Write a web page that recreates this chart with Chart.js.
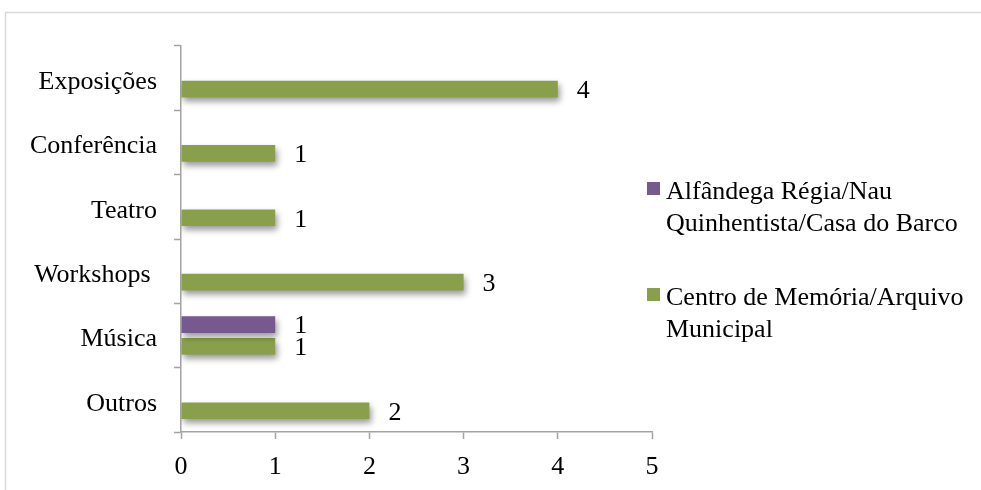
<!DOCTYPE html>
<html>
<head>
<meta charset="utf-8">
<script src="https://cdn.jsdelivr.net/npm/chart.js@4"></script>
<style>
  html, body { margin: 0; padding: 0; background: #fff; }
  canvas { display: block; }
</style>
</head>
<body>
<canvas id="grafico" width="981" height="490"></canvas>
<script>
const categorias = ["Exposições", "Conferência", "Teatro", "Workshops ", "Música", "Outros"];
const alfandega = [null, null, null, null, 1, null];
const centroMemoria = [4, 1, 1, 3, 1, 2];
const ticksX = [0, 1, 2, 3, 4, 5];

const legendaLinhas = [
  ["Alfândega Régia/Nau", "Quinhentista/Casa do Barco"],
  ["Centro de Memória/Arquivo", "Municipal"],
];

const CINZA = "#a3a3a3";

Chart.defaults.font.family = "'Liberation Serif', 'Times New Roman', serif";
Chart.defaults.font.size = 26;
Chart.defaults.color = "#000";

// moldura cinzenta à volta do gráfico
const moldura = {
  id: "moldura",
  beforeDraw(chart) {
    const ctx = chart.ctx;
    ctx.save();
    ctx.strokeStyle = "#d9d9d9";
    ctx.lineWidth = 1.5;
    ctx.beginPath();
    ctx.moveTo(5.5, 490);
    ctx.lineTo(5.5, 12.5);
    ctx.lineTo(981, 12.5);
    ctx.stroke();
    ctx.restore();
  },
};

// sombra por baixo das barras
const sombra = {
  id: "sombra",
  beforeDatasetsDraw(chart) {
    const ctx = chart.ctx;
    ctx.save();
    ctx.shadowColor = "rgba(0,0,0,0.4)";
    ctx.shadowBlur = 6;
    ctx.shadowOffsetX = 2;
    ctx.shadowOffsetY = 4;
  },
  afterDatasetsDraw(chart) {
    chart.ctx.restore();
  },
};

// valores à direita de cada barra
const valores = {
  id: "valores",
  afterDatasetsDraw(chart) {
    const ctx = chart.ctx;
    ctx.save();
    ctx.font = "26px 'Liberation Serif', serif";
    ctx.fillStyle = "#000";
    ctx.textAlign = "left";
    ctx.textBaseline = "middle";
    chart.data.datasets.forEach((ds, i) => {
      chart.getDatasetMeta(i).data.forEach((bar, j) => {
        const v = ds.data[j];
        if (v === null) return;
        ctx.fillText(String(v), bar.x + 19, bar.y + 2);
      });
    });
    ctx.restore();
  },
};

// legenda em duas linhas por série
const legenda = {
  id: "legenda",
  afterDraw(chart) {
    const ctx = chart.ctx;
    const topos = [182, 288];
    ctx.save();
    ctx.font = "26px 'Liberation Serif', serif";
    ctx.textAlign = "left";
    ctx.textBaseline = "alphabetic";
    chart.data.datasets.forEach((ds, i) => {
      const y = topos[i];
      ctx.fillStyle = ds.backgroundColor;
      ctx.fillRect(647, y, 13, 13);
      ctx.fillStyle = "#000";
      legendaLinhas[i].forEach((linha, k) => {
        ctx.fillText(linha, 666, y + 17 + k * 32);
      });
    });
    ctx.restore();
  },
};

new Chart(document.getElementById("grafico"), {
  type: "bar",
  data: {
    labels: categorias,
    datasets: [
      {
        label: legendaLinhas[0].join(" "),
        data: alfandega,
        backgroundColor: "#76598f",
      },
      {
        label: legendaLinhas[1].join(" "),
        data: centroMemoria,
        backgroundColor: "#8a9f4c",
      },
    ],
  },
  options: {
    indexAxis: "y",
    responsive: false,
    animation: false,
    categoryPercentage: 0.68,
    barPercentage: 0.76,
    layout: { padding: { top: 46, right: 329, bottom: 0, left: 0 } },
    plugins: {
      legend: { display: false },
      tooltip: { enabled: false },
    },
    scales: {
      x: {
        min: 0,
        max: 5,
        afterBuildTicks: (scale) => {
          scale.ticks = ticksX.map((v) => ({ value: v }));
        },
        afterFit: (scale) => {
          scale.height = 58;
        },
        border: { color: CINZA, width: 1.5 },
        grid: {
          drawOnChartArea: false,
          color: CINZA,
          tickLength: 7,
          tickWidth: 1.5,
        },
        ticks: { padding: 13, color: "#000" },
      },
      y: {
        afterFit: (scale) => {
          scale.width = 181;
        },
        border: { color: CINZA, width: 1.5 },
        grid: {
          drawOnChartArea: false,
          color: CINZA,
          tickLength: 7,
          tickWidth: 1.5,
        },
        ticks: { padding: 17, labelOffset: 4, color: "#000" },
      },
    },
  },
  plugins: [moldura, sombra, valores, legenda],
});
</script>
</body>
</html>
